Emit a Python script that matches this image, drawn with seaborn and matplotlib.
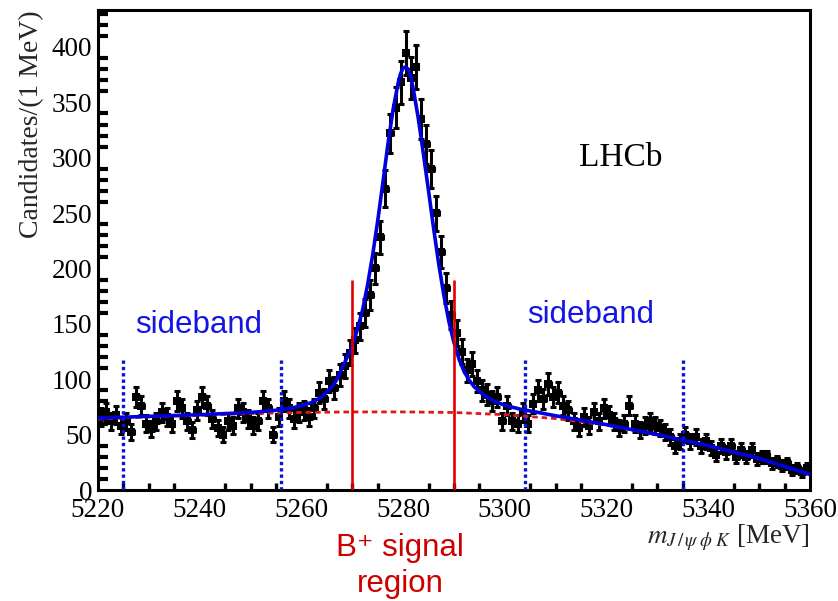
import numpy as np
import pandas as pd
import matplotlib
matplotlib.use("Agg")
import matplotlib.pyplot as plt
import seaborn as sns
from matplotlib.ticker import MultipleLocator

# ---------------- data ----------------
bin_lo = 5220
bin_width = 1.0
counts = [66, 70, 62, 68, 58, 62, 52, 84, 76, 60,
          55, 62, 70, 66, 60, 80, 74, 62, 54, 72,
          84, 76, 64, 56, 50, 62, 58, 74, 70, 64,
          58, 62, 80, 74, 50, 66, 80, 74, 64, 70,
          72, 66, 74, 88, 82, 98, 92, 104, 112, 124,
          135, 148, 160, 176, 200, 228, 272, 322, 345, 368,
          395, 372, 382, 335, 312, 290, 250, 215, 182, 158,
          142, 125, 108, 114, 98, 90, 86, 80, 84, 62,
          76, 62, 60, 70, 60, 78, 90, 82, 96, 84,
          88, 76, 72, 62, 56, 66, 58, 70, 62, 74,
          68, 62, 56, 60, 76, 60, 54, 58, 62, 58,
          56, 52, 48, 40, 44, 50, 44, 48, 40, 44,
          38, 32, 40, 34, 40, 30, 36, 30, 36, 28,
          30, 30, 24, 26, 22, 24, 18, 20, 16, 20]

fit_mass = [5220, 5230, 5240, 5250, 5255, 5258, 5260, 5262, 5264, 5266,
            5267, 5268, 5269, 5270, 5271, 5272, 5273, 5274, 5275, 5276,
            5277, 5278, 5279, 5279.5, 5280, 5280.5, 5281, 5281.5, 5282, 5283,
            5284, 5285, 5286, 5287, 5288, 5289, 5290, 5291, 5292, 5293,
            5294, 5296, 5298, 5300, 5303, 5306, 5310, 5315, 5320, 5330,
            5340, 5350, 5360]
fit_vals = [65, 66.5, 68, 70, 72, 74, 76, 79, 84, 93,
            100, 110, 120, 130, 145, 162, 185, 212, 243, 277,
            312, 343, 367, 376, 381, 382, 380, 373, 362, 335,
            303, 270, 236, 204, 176, 152, 133, 118, 107, 99,
            93, 85, 80, 76.5, 73, 70.5, 67, 63, 59, 50,
            40, 28.5, 14]

bg_mass = [5220, 5230, 5240, 5250, 5260, 5270, 5280, 5290, 5300, 5310,
           5320, 5330, 5340, 5350, 5360]
bg_vals = [64, 66, 67.5, 69, 70, 70.5, 70.5, 70, 68, 64.5,
           58.5, 50, 40, 28.5, 14]

sideband_edges = [5225, 5256, 5304, 5335]
sideband_top = 120
signal_edges = [5270, 5290]
signal_top = 190

xticks = [5220, 5240, 5260, 5280, 5300, 5320, 5340, 5360]
yticks = [0, 50, 100, 150, 200, 250, 300, 350, 400]

# ---------------- figure ----------------
sns.set_theme(style="white")
plt.rcParams["font.family"] = ["Liberation Serif", "DejaVu Serif"]
plt.rcParams["mathtext.fontset"] = "stix"

fig = plt.figure(figsize=(8.38, 6.01), dpi=100)
ax = fig.add_axes([98 / 838, 1 - 490 / 601, 712 / 838, 480 / 601])

counts_arr = np.array(counts, dtype=float)
centers = bin_lo + bin_width * (np.arange(len(counts)) + 0.5)
df = pd.DataFrame({"mass": centers, "count": counts_arr})

ax.errorbar(df["mass"], df["count"], yerr=np.sqrt(counts_arr), xerr=bin_width / 2,
            fmt="none", ecolor="black", elinewidth=2.2, capsize=2.2, capthick=2.2,
            zorder=3)
sns.scatterplot(data=df, x="mass", y="count", marker="s", s=34, color="black",
                edgecolor="black", linewidth=0, ax=ax, zorder=4, legend=False)

sns.lineplot(x=bg_mass, y=bg_vals, ax=ax, color="#e01818", linewidth=2.0,
             linestyle=(0, (2.0, 1.4)), zorder=5, estimator=None, sort=True)
sns.lineplot(x=fit_mass, y=fit_vals, ax=ax, color="#0000dd", linewidth=2.6,
             zorder=6, estimator=None, sort=True)

ax.vlines(sideband_edges, 0, sideband_top, colors="#0a14d8", linewidth=2.4,
          linestyles=(0, (1.0, 0.9)), zorder=7)
ax.vlines(signal_edges, 0, signal_top, colors="#e00000", linewidth=1.9, zorder=7)

ax.set_xlim(5220, 5360)
ax.set_ylim(0, 433.4)
ax.set_xticks(xticks)
ax.set_yticks(yticks)
ax.xaxis.set_minor_locator(MultipleLocator(5))
ax.yaxis.set_minor_locator(MultipleLocator(10))

ax.tick_params(axis="both", which="both", direction="in", top=False, right=False,
               colors="black", labelsize=19.5)
ax.tick_params(axis="y", which="major", length=14, width=3.0, pad=4)
ax.tick_params(axis="y", which="minor", length=7.5, width=3.0)
ax.tick_params(axis="x", which="major", length=9.5, width=2.4, pad=5.5)
ax.tick_params(axis="x", which="minor", length=5, width=2.4)
ax.tick_params(axis="y", which="minor", left=True)
ax.tick_params(axis="x", which="minor", bottom=True)

for sp in ax.spines.values():
    sp.set_linewidth(2.2)
    sp.set_color("black")
    sp.set_visible(True)

ax.set_ylabel("Candidates/(1 MeV)", fontsize=20, loc="top")
ax.yaxis.set_label_coords(-0.076, 1.0)
ax.set_xlabel(r"$m_{J\,/\,\psi\;\phi\;K}$ [MeV]", fontsize=19.5, loc="right")
ax.xaxis.set_label_coords(1.0, -0.068)

sans = ["Liberation Sans", "DejaVu Sans"]
ax.text(5239.7, 149, "sideband", color="#1414e6", fontsize=22.5, family=sans,
        ha="center", va="center")
ax.text(5316.9, 158, "sideband", color="#1414e6", fontsize=22.5, family=sans,
        ha="center", va="center")
ax.text(5279.4, -52.4, "B\u207a signal", color="#cc0000", fontsize=22.5, family=sans,
        ha="center", va="center", clip_on=False)
ax.text(5279.4, -84.9, "region", color="#cc0000", fontsize=22.5, family=sans,
        ha="center", va="center", clip_on=False)
ax.text(5322.8, 300, "LHCb", color="black", fontsize=24,
        family=["Liberation Serif", "DejaVu Serif"], ha="center", va="center")

fig.savefig("out.png", dpi=100, facecolor="white")
